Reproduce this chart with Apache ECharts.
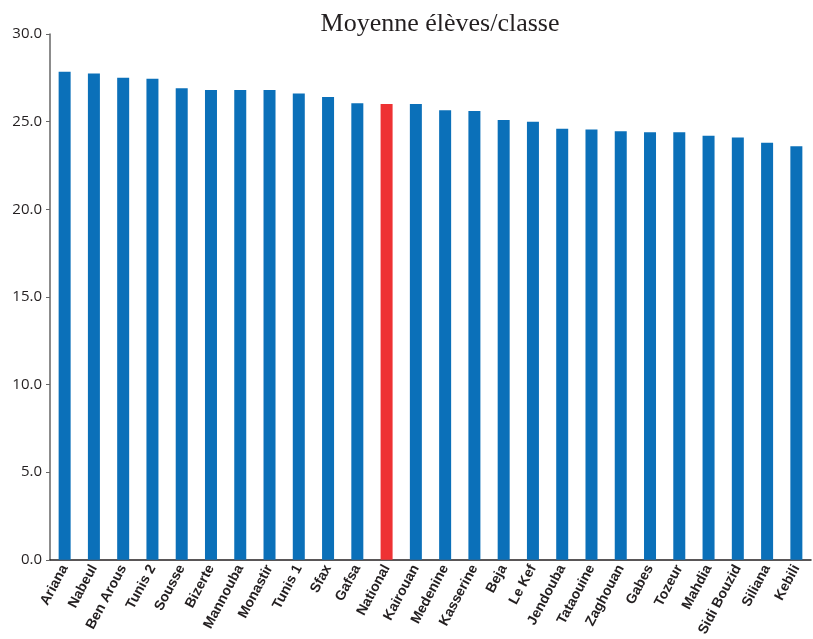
<!DOCTYPE html>
<html>
<head>
<meta charset="utf-8">
<script src="https://cdn.jsdelivr.net/npm/echarts@6/dist/echarts.min.js"></script>
<style>
  html, body { margin: 0; padding: 0; background: #fff; }
  #chart { width: 813px; height: 639px; }
</style>
</head>
<body>
<div id="chart"></div>
<script>
// gouvernorats, du plus grand au plus petit
const regions = ['Ariana', 'Nabeul', 'Ben Arous', 'Tunis 2', 'Sousse', 'Bizerte', 'Mannouba', 'Monastir',
  'Tunis 1', 'Sfax', 'Gafsa', 'National', 'Kairouan', 'Medenine', 'Kasserine', 'Beja', 'Le Kef',
  'Jendouba', 'Tataouine', 'Zaghouan', 'Gabes', 'Tozeur', 'Mahdia', 'Sidi Bouzid', 'Siliana', 'Kebili']
const moyenne = [27.85, 27.75, 27.5, 27.45, 26.9, 26.8, 26.8, 26.8, 26.6, 26.4, 26.05, 26.0, 26.0,
  25.65, 25.6, 25.1, 25.0, 24.6, 24.55, 24.45, 24.4, 24.4, 24.2, 24.1, 23.8, 23.6]
const yTicks = [0, 5, 10, 15, 20, 25, 30]

const chart = echarts.init(document.getElementById('chart'))
chart.setOption({
  animation: false,
  title: {
    text: 'Moyenne élèves/classe',
    left: 435,
    top: 6,
    textAlign: 'center',
    textStyle: { fontFamily: 'Liberation Serif', fontSize: 26, fontWeight: 'normal', color: '#231f20' }
  },
  grid: { left: 50, right: 2, top: 34, bottom: 79 },
  xAxis: {
    type: 'category',
    data: regions,
    axisLine: { lineStyle: { color: '#231f20', width: 1.5 } },
    axisTick: { alignWithLabel: false, length: 4, lineStyle: { color: '#999' } },
    axisLabel: {
      rotate: 62,
      interval: 0,
      margin: 6,
      fontFamily: 'Liberation Sans',
      fontWeight: 'bold',
      fontSize: 14,
      color: '#231f20'
    }
  },
  yAxis: {
    type: 'value',
    min: yTicks[0],
    max: yTicks[yTicks.length - 1],
    interval: 5,
    splitLine: { show: false },
    axisLine: { show: true, lineStyle: { color: '#666', width: 1.5 } },
    axisTick: { show: true, length: 4, lineStyle: { color: '#666' } },
    axisLabel: {
      margin: 8,
      fontFamily: 'Open Sans',
      fontSize: 15,
      color: '#231f20',
      formatter: v => v.toFixed(1)
    }
  },
  series: [{
    type: 'bar',
    barWidth: 12,
    data: moyenne.map((v, i) => ({
      value: v,
      itemStyle: { color: regions[i] === 'National' ? '#ee3233' : '#0b70b9' }
    }))
  }]
})
</script>
</body>
</html>
